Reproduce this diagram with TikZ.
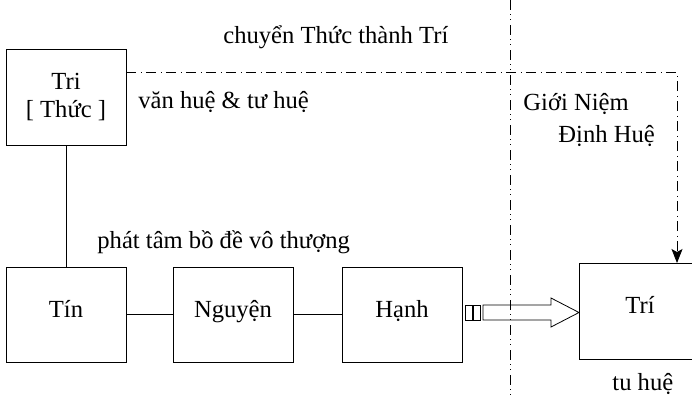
\documentclass[tikz,border=0pt]{standalone}
\usepackage{fontspec}
\setmainfont{Liberation Serif}
\usetikzlibrary{arrows.meta}
\begin{document}
\begin{tikzpicture}[x=1pt,y=-1pt,
  font=\fontsize{24.6}{28}\selectfont, line width=0.8pt,
  box/.style={draw, minimum width=120pt, minimum height=95pt, inner sep=0pt,
              text height=12pt, text depth=7pt},
  lbl/.style={inner sep=0pt, anchor=base west},
  dashdot/.style={dash pattern=on 10pt off 4.5pt on 1pt off 4.5pt},
  dashdotdot/.style={dash pattern=on 10pt off 4pt on 1pt off 4pt on 1pt off 5pt}]
\useasboundingbox (0,0) rectangle (692,397);
\clip (0,0) rectangle (692,397);
% boxes
\node[box, minimum height=96pt, align=center, text height=, text depth=] (tri) at (66,97) {Tri\\{[} Thức ]};
\node[box] (tin) at (66,314.5) {Tín};
\node[box] (nguyen) at (233,314.5) {Nguyện};
\node[box] (hanh) at (402,314.5) {Hạnh};
\node[draw, minimum width=140pt, minimum height=96pt, inner sep=0pt, anchor=north west] (trib) at (579,263) {};
\node[anchor=base, inner sep=0pt] (tritext) at (640,313) {Trí};
% labels
\node[lbl] (l1) at (223,43) {chuyển Thức thành Trí};
\node[lbl] (l2) at (138,108) {văn huệ \& tư huệ};
\node[lbl] (l3) at (97,248) {phát tâm bồ đề vô thượng};
\node[lbl] (l4) at (523,110) {Giới Niệm};
\node[lbl] (l5) at (558,142) {Định Huệ};
\node[lbl] (l6) at (612,390) {tu huệ};
% connectors
\draw (tri.south) -- (tin.north);
\draw (tin.east) -- (nguyen.west);
\draw (nguyen.east) -- (hanh.west);
% separator
\draw[dashdotdot] (510,0) -- (510,397);
% dash-dot arrow
\coordinate (corner) at (677,72);
\draw[dashdot, -{Stealth[length=14pt,width=11pt,inset=3pt]}] (tri.east |- corner) -- (corner) -- (corner |- trib.north);
% hollow arrow
\draw (465,305) rectangle (472,320);
\draw (473,305) rectangle (480,320);
\draw (483,305) -- (551,305) -- (551,298) -- (trib.west |- 0,312.5) -- (551,327) -- (551,320) -- (483,320) -- cycle;
\end{tikzpicture}
\end{document}
